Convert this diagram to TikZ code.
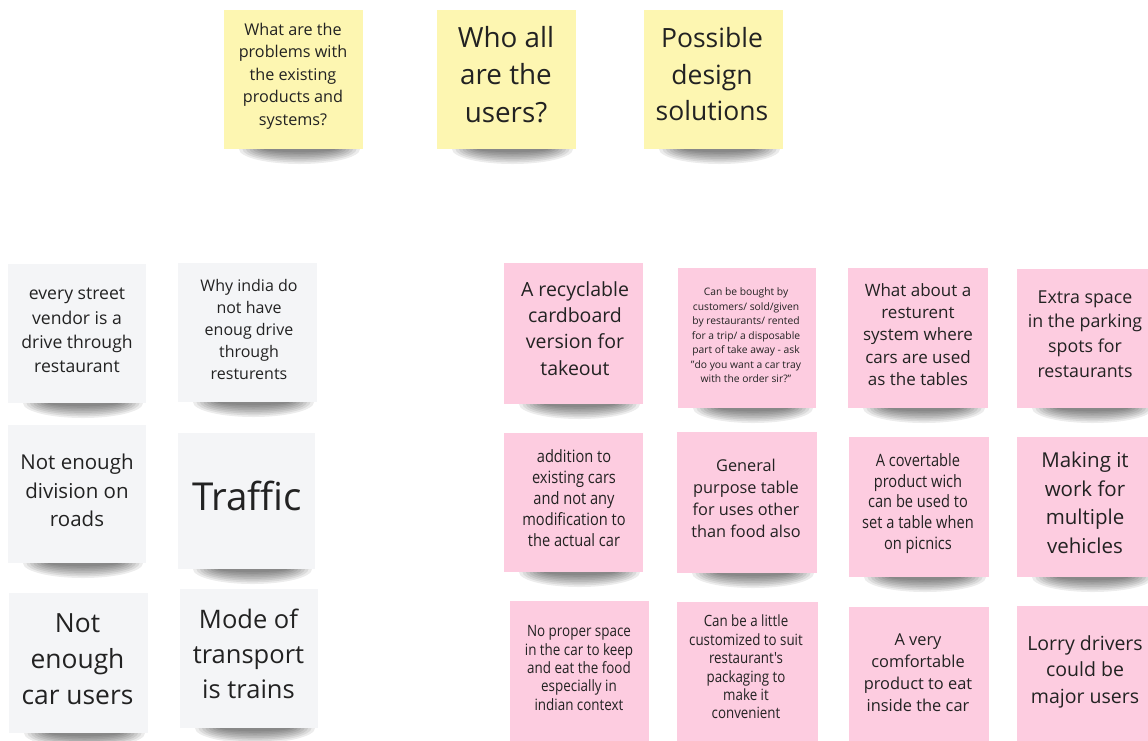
\documentclass[tikz,border=0pt]{standalone}
\usepackage{fontspec}
\setmainfont{Open Sans}
\newfontfamily\condfont[FakeStretch=0.86]{Open Sans}
\definecolor{noteyellow}{HTML}{FDF6B1}
\definecolor{notepink}{HTML}{FDCCE0}
\definecolor{notegray}{HTML}{F4F5F7}
\definecolor{notetext}{HTML}{222222}
\tikzset{
  stickynote/.style={rectangle, inner sep=0pt, draw=none},
  notelabel/.style={align=center, inner sep=0pt, text=notetext},
}
\newcommand\stickyshadow[3]{%
  \foreach \i in {0,...,7}{%
    \fill[black, opacity=0.075] ({(#1+#2)/2+6},#3) ellipse [x radius={(#2-#1)/2-9-\i*3.5}, y radius={15-\i*1.7}];
  }%
}
\newcommand\fs[2]{\fontsize{#1}{#2}\selectfont}
\begin{document}
\begin{tikzpicture}[x=1pt,y=-1pt]
\useasboundingbox (0,0) rectangle (1148,740);
\clip (0,0) rectangle (1148,740);
\fill[white] (0,0) rectangle (1148,740);
% shadows
\stickyshadow{224}{363}{149}
\stickyshadow{437}{576}{149}
\stickyshadow{644}{783}{149}
\stickyshadow{8}{146}{403}
\stickyshadow{178}{317}{402}
\stickyshadow{8}{146}{563}
\stickyshadow{178}{315}{569}
\stickyshadow{9}{148}{733}
\stickyshadow{180}{318}{728}
\stickyshadow{504}{643}{404}
\stickyshadow{678}{816}{408}
\stickyshadow{848}{988}{408}
\stickyshadow{1017}{1156}{408}
\stickyshadow{504}{643}{572}
\stickyshadow{677}{817}{573}
\stickyshadow{849}{989}{577}
\stickyshadow{1017}{1156}{577}
% yellow notes
\node[stickynote, fill=noteyellow, minimum width=139pt, minimum height=139pt] (y1) at (293.5,79.5) {};
\node[stickynote, fill=noteyellow, minimum width=139pt, minimum height=139pt] (y2) at (506.5,79.5) {};
\node[stickynote, fill=noteyellow, minimum width=139pt, minimum height=139pt] (y3) at (713.5,79.5) {};
\node[notelabel, font=\fs{16.2}{22.5}] (y1t) at (293,76) {What are the\\problems with\\the existing\\products and\\systems?};
\node[notelabel, font=\fs{27.8}{37.5}] (y2t) at (506,74.5) {Who all\\are the\\users?};
\node[notelabel, font=\fs{26.5}{36.5}] (y3t) at (712,74.5) {Possible\\design\\solutions};
% gray notes
\node[stickynote, fill=notegray, minimum width=138pt, minimum height=139pt] (g1) at (77,333.5) {};
\node[stickynote, fill=notegray, minimum width=139pt, minimum height=139pt] (g2) at (247.5,332.5) {};
\node[stickynote, fill=notegray, minimum width=138pt, minimum height=138pt] (g3) at (77,494) {};
\node[stickynote, fill=notegray, minimum width=137pt, minimum height=136pt] (g4) at (246.5,501) {};
\node[stickynote, fill=notegray, minimum width=139pt, minimum height=140pt] (g5) at (78.5,663) {};
\node[stickynote, fill=notegray, minimum width=138pt, minimum height=139pt] (g6) at (249,658.5) {};
\node[notelabel, font=\fs{17.6}{24.3}] (g1t) at (77,330.5) {every street\\vendor is a\\drive through\\restaurant};
\node[notelabel, font=\fs{16}{22.2}] (g2t) at (249,329.5) {Why india do\\not have\\enoug drive\\through\\resturents};
\node[notelabel, font=\fs{20.5}{28.5}] (g3t) at (77,490.5) {Not enough\\division on\\roads};
\node[notelabel, font=\fs{38.5}{44}] (g4t) at (247,496) {Traffic};
\node[notelabel, font=\fs{26.4}{36}] (g5t) at (77.5,659) {Not\\enough\\car users};
\node[notelabel, font=\fs{25.5}{35}] (g6t) at (248.5,654) {Mode of\\transport\\is trains};
% pink notes
\node[stickynote, fill=notepink, minimum width=139pt, minimum height=141pt] (p1) at (573.5,333.5) {};
\node[stickynote, fill=notepink, minimum width=138pt, minimum height=140pt] (p2) at (747,338) {};
\node[stickynote, fill=notepink, minimum width=140pt, minimum height=140pt] (p3) at (918,338) {};
\node[stickynote, fill=notepink, minimum width=139pt, minimum height=139pt] (p4) at (1086.5,338.5) {};
\node[stickynote, fill=notepink, minimum width=139pt, minimum height=139pt] (p5) at (573.5,502.5) {};
\node[stickynote, fill=notepink, minimum width=140pt, minimum height=141pt] (p6) at (747,502.5) {};
\node[stickynote, fill=notepink, minimum width=140pt, minimum height=140pt] (p7) at (919,507) {};
\node[stickynote, fill=notepink, minimum width=139pt, minimum height=140pt] (p8) at (1086.5,507) {};
\node[stickynote, fill=notepink, minimum width=139pt, minimum height=140pt] (p9) at (579.5,671) {};
\node[stickynote, fill=notepink, minimum width=141pt, minimum height=140pt] (p10) at (747.5,672) {};
\node[stickynote, fill=notepink, minimum width=140pt, minimum height=140pt] (p11) at (919,677) {};
\node[stickynote, fill=notepink, minimum width=139pt, minimum height=140pt] (p12) at (1086.5,676) {};
\node[notelabel, font=\fs{19.5}{26.3}] (p1t) at (575,328.5) {A recyclable\\cardboard\\version for\\takeout};
\node[notelabel, font=\fs{10.3}{14.5}] (p2t) at (746,335.5) {Can be bought by\\customers/ sold/given\\by restaurants/ rented\\for a trip/ a disposable\\part of take away - ask\\"do you want a car tray\\with the order sir?"};
\node[notelabel, font=\fs{17}{22.2}] (p3t) at (918,334.5) {What about a\\resturent\\system where\\cars are used\\as the tables};
\node[notelabel, font=\fs{17.8}{24.7}] (p4t) at (1085,334) {Extra space\\in the parking\\spots for\\restaurants};
\node[notelabel, font=\condfont\fs{17}{21}] (p5t) at (574,498) {addition to\\existing cars\\and not any\\modification to\\the actual car};
\node[notelabel, font=\fs{16.3}{22}] (p6t) at (746,498) {General\\purpose table\\for uses other\\than food also};
\node[notelabel, font=\condfont\fs{17}{20.7}] (p7t) at (918,503.5) {A covertable\\product wich\\can be used to\\set a table when\\on picnics};
\node[notelabel, font=\fs{20.5}{28.5}] (p8t) at (1085,503) {Making it\\work for\\multiple\\vehicles};
\node[notelabel, font=\condfont\fs{15.6}{18.4}] (p9t) at (579,668) {No proper space\\in the car to keep\\and eat the food\\especially in\\indian context};
\node[notelabel, font=\condfont\fs{15.5}{18.4}] (p10t) at (746,667) {Can be a little\\customized to suit\\restaurant's\\packaging to\\make it\\convenient};
\node[notelabel, font=\fs{16.4}{22}] (p11t) at (918,673) {A very\\comfortable\\product to eat\\inside the car};
\node[notelabel, font=\fs{19.5}{26.5}] (p12t) at (1085,671.5) {Lorry drivers\\could be\\major users};
\end{tikzpicture}
\end{document}
